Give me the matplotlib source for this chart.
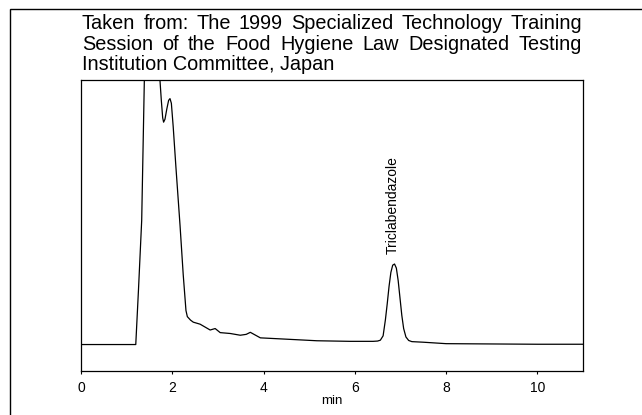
import matplotlib
matplotlib.use("Agg")
import matplotlib.pyplot as plt
from matplotlib.patches import Rectangle

plt.rcParams['font.family'] = ['Liberation Sans', 'DejaVu Sans']

# chromatogram trace (time in min, signal in arbitrary units)
t = [0.0, 0.6, 1.20, 1.26, 1.33, 1.40, 1.47, 1.55, 1.63, 1.70, 1.73,
     1.76, 1.79, 1.81, 1.84, 1.88, 1.92, 1.95, 1.98, 2.02, 2.08, 2.17,
     2.24, 2.30, 2.33, 2.40, 2.46, 2.61, 2.72, 2.83, 2.94, 3.05, 3.27,
     3.49, 3.62, 3.71, 3.78, 3.93, 4.43, 5.17, 5.90, 6.40, 6.50, 6.56,
     6.62, 6.67, 6.71, 6.75, 6.79, 6.83, 6.87, 6.91, 6.95, 6.99, 7.03,
     7.07, 7.12, 7.18, 7.25, 7.50, 8.0, 9.0, 10.0, 11.0]
signal = [9.0, 9.0, 9.0, 28.0, 51.7, 110.0, 135.0, 140.0, 128.0, 108.0, 100.0,
          93.0, 87.0, 85.5, 86.5, 90.0, 93.0, 93.6, 92.0, 84.0, 70.0, 50.0,
          33.0, 20.7, 18.6, 17.4, 16.7, 16.0, 15.0, 14.0, 14.5, 13.1, 12.8,
          12.2, 12.5, 13.2, 12.6, 11.3, 10.9, 10.3, 10.1, 10.1, 10.2, 10.5,
          12.0, 17.5, 23.0, 29.0, 33.8, 36.3, 36.7, 35.3, 31.0, 25.0, 19.0,
          14.5, 11.6, 10.4, 10.0, 9.8, 9.3, 9.2, 9.1, 9.1]

peak_name = 'Triclabendazole'
peak_time = 6.84
ticks = [0, 2, 4, 6, 8, 10]

title_lines = ['Taken from: The 1999 Specialized Technology Training',
               'Session of the Food Hygiene Law Designated Testing',
               'Institution Committee, Japan']

W, H = 642, 415
fig = plt.figure(figsize=(W / 100, H / 100), dpi=100)
ax = fig.add_axes([81 / W, 1 - 370.7 / H, (583 - 81) / W, (370.7 - 80) / H])

ax.plot(t, signal, color='black', lw=0.9)
ax.set_xlim(0, 11)
ax.set_ylim(0, 100)
ax.set_yticks([])
ax.set_xticks(ticks)
ax.tick_params(axis='x', direction='out', length=2.5, width=0.8, pad=5, labelsize=10)
for sp in ax.spines.values():
    sp.set_linewidth(0.9)
ax.set_xlabel('min', fontsize=9.5, labelpad=0)

ax.text(peak_time, 40.3, peak_name, rotation=90, ha='center', va='bottom', fontsize=10)

# outer frame (only left and top edges are visible)
fig.add_artist(Rectangle((10 / W, -0.1), 1.2, 1.1 - 9 / H, transform=fig.transFigure,
                         fill=False, lw=1.0, ec='black'))

# title block, first two lines justified
x0, x1 = 82 / W, 582 / W
baselines = [29.3, 49.6, 69.6]
fig.canvas.draw()
r = fig.canvas.get_renderer()
for i, line in enumerate(title_lines):
    y = 1 - baselines[i] / H
    if i == len(title_lines) - 1:
        fig.text(x0, y, line, fontsize=14.3, va='baseline', ha='left')
        continue
    words = line.split(' ')
    txts = [fig.text(0, y, w, fontsize=14.3, va='baseline', ha='left') for w in words]
    widths = [tx.get_window_extent(r).width / W for tx in txts]
    gap = (x1 - x0 - sum(widths)) / (len(words) - 1)
    x = x0
    for tx, w in zip(txts, widths):
        tx.set_x(x)
        x += w + gap

fig.savefig('out.png', dpi=100)
